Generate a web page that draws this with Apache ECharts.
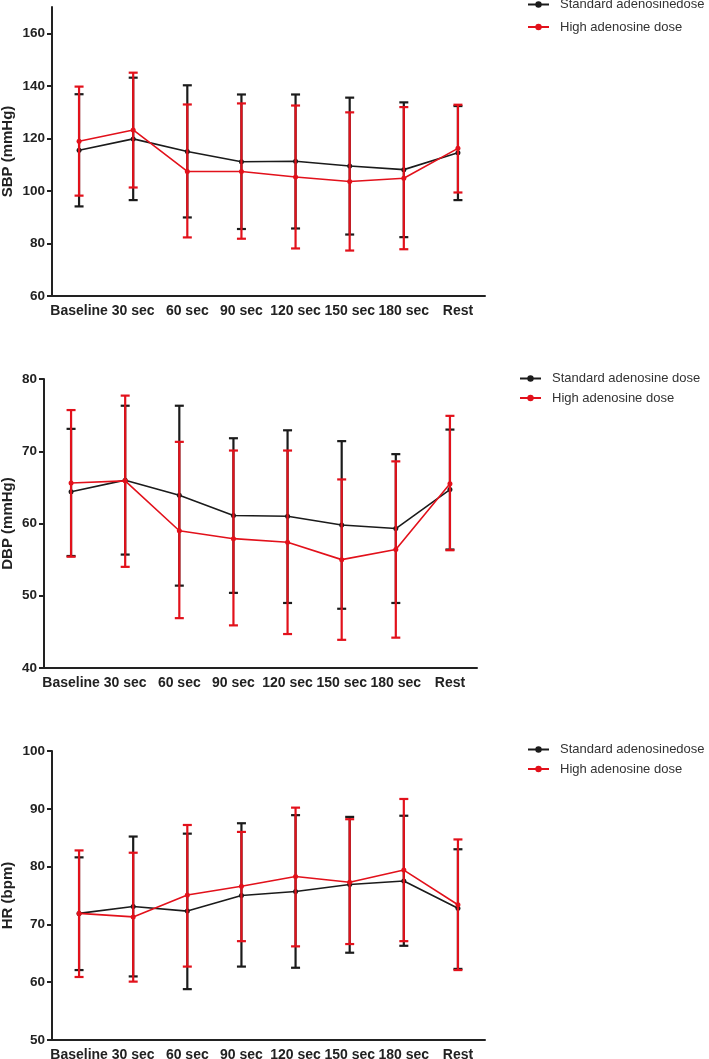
<!DOCTYPE html>
<html><head><meta charset="utf-8">
<script src="https://cdn.jsdelivr.net/npm/echarts@6/dist/echarts.min.js"></script>
<style>html,body{margin:0;padding:0;background:#fff}#c{width:709px;height:1059px}</style>
</head><body><div id="c"></div>
<script>
const categories = ['Baseline','30 sec','60 sec','90 sec','120 sec','150 sec','180 sec','Rest'];

// SBP (mmHg)
const sbpStdMean  = [115.5,119.8,115.0,111.1,111.3,109.5,108.1,114.5];
const sbpStdUpper = [136.8,143.1,140.2,136.7,136.7,135.5,133.7,132.3];
const sbpStdLower = [94.1,96.5,89.9,85.5,85.7,83.4,82.4,96.5];
const sbpHighMean  = [118.9,123.2,107.4,107.4,105.3,103.6,104.8,116.2];
const sbpHighUpper = [139.7,145.0,132.9,133.3,132.5,129.9,131.9,132.8];
const sbpHighLower = [98.2,101.3,82.3,81.8,78.1,77.3,77.8,99.4];
const sbpTicks = [60,80,100,120,140,160];

// DBP (mmHg)
const dbpStdMean  = [64.4,66.0,63.9,61.1,61.0,59.8,59.3,64.7];
const dbpStdUpper = [73.1,76.3,76.3,71.8,72.9,71.4,69.6,73.0];
const dbpStdLower = [55.5,55.7,51.4,50.4,49.0,48.2,49.0,56.4];
const dbpHighMean  = [65.6,65.9,59.0,57.9,57.4,55.0,56.4,65.5];
const dbpHighUpper = [75.7,77.7,71.3,70.1,70.1,66.1,68.6,74.9];
const dbpHighLower = [55.4,54.0,46.9,45.9,44.7,43.9,44.2,56.3];
const dbpTicks = [40,50,60,70,80];

// HR (bpm)
const hrStdMean  = [71.9,73.1,72.3,75.0,75.7,76.9,77.5,72.8];
const hrStdUpper = [81.6,85.2,85.7,87.5,88.9,88.6,88.8,83.0];
const hrStdLower = [62.1,61.0,58.8,62.7,62.5,65.1,66.3,62.3];
const hrHighMean  = [71.9,71.3,75.1,76.6,78.3,77.3,79.4,73.4];
const hrHighUpper = [82.8,82.4,87.2,86.0,90.2,88.2,91.7,84.7];
const hrHighLower = [60.9,60.1,62.7,67.1,66.2,66.6,67.1,62.1];
const hrTicks = [50,60,70,80,90,100];

const names13 = ['Standard adenosinedose','High adenosine dose'];
const names2  = ['Standard adenosine dose','High adenosine dose'];

const BLACK = '#1b1b1b', RED = '#e2111b', AX = '#222';
const FONT = 'Liberation Sans, Arial, sans-serif';

function errRender(color){
  return function(params, api){
    const x = api.value(0);
    const lo = api.coord([x, api.value(1)]);
    const hi = api.coord([x, api.value(2)]);
    const st = {stroke: color, lineWidth: 2.2};
    const cw = 4.5;
    return {type:'group', children:[
      {type:'line', shape:{x1:lo[0],y1:lo[1],x2:hi[0],y2:hi[1]}, style:st},
      {type:'line', shape:{x1:lo[0]-cw,y1:lo[1],x2:lo[0]+cw,y2:lo[1]}, style:st},
      {type:'line', shape:{x1:hi[0]-cw,y1:hi[1],x2:hi[0]+cw,y2:hi[1]}, style:st}
    ]};
  };
}
function errData(lower, upper){ return categories.map((c,i)=>[i, lower[i], upper[i]]); }

function panelSeries(idx, names, sM, sU, sL, hM, hU, hL){
  return [
    {type:'custom', name:'err-s'+idx, xAxisIndex:idx, yAxisIndex:idx, renderItem:errRender(BLACK),
     data:errData(sL,sU), encode:{x:0,y:[1,2]}, z:2, silent:true},
    {type:'line', name:names[0], xAxisIndex:idx, yAxisIndex:idx, data:sM, symbol:'circle', symbolSize:5,
     itemStyle:{color:BLACK}, lineStyle:{color:BLACK, width:1.6}, z:3},
    {type:'custom', name:'err-h'+idx, xAxisIndex:idx, yAxisIndex:idx, renderItem:errRender(RED),
     data:errData(hL,hU), encode:{x:0,y:[1,2]}, z:4, silent:true},
    {type:'line', name:names[1], xAxisIndex:idx, yAxisIndex:idx, data:hM, symbol:'circle', symbolSize:5,
     itemStyle:{color:RED}, lineStyle:{color:RED, width:1.6}, z:5}
  ];
}

function xAx(idx){
  return {type:'category', gridIndex:idx, data:categories, boundaryGap:true,
    axisLine:{lineStyle:{color:AX, width:2}},
    axisTick:{alignWithLabel:true, length:5, lineStyle:{color:AX, width:2}},
    axisLabel:{interval:0, hideOverlap:false, margin:8, color:AX, fontWeight:'bold', fontSize:14, fontFamily:FONT}};
}
function yAx(idx, min, max, ticks, name, gap){
  return {type:'value', gridIndex:idx, min:min, max:max, name:name, nameLocation:'middle', nameGap:gap,
    nameMoveOverlap:false,
    nameTextStyle:{color:AX, fontWeight:'bold', fontSize:15, fontFamily:FONT},
    splitLine:{show:false},
    axisLine:{show:true, lineStyle:{color:AX, width:2}},
    axisTick:{show:true, length:5, customValues:ticks, lineStyle:{color:AX, width:2}},
    axisLabel:{customValues:ticks, margin:7, color:AX, fontWeight:'bold', fontSize:13.5, fontFamily:FONT}};
}
function legend(left, top, names, gap){
  return {left:left, top:top, padding:0, orient:'vertical', data:names, itemWidth:21, itemHeight:8, itemGap:gap,
    textStyle:{color:'#333', fontSize:13, fontFamily:FONT, padding:[0,0,0,6]}};
}
function grid(left, top){
  return {left:left, top:top, width:433, height:289, containLabel:false, outerBoundsMode:'none'};
}

const chart = echarts.init(document.getElementById('c'), null, {renderer:'canvas'});
chart.setOption({
  animation:false,
  backgroundColor:'#fff',
  grid:[grid(52,7), grid(44,379), grid(52,751)],
  legend:[legend(527, -2, names13, 9.5), legend(519, 372, names2, 6.5), legend(527, 743, names13, 6.5)],
  xAxis:[xAx(0), xAx(1), xAx(2)],
  yAxis:[
    yAx(0, 60, 170, sbpTicks, 'SBP (mmHg)', 37),
    yAx(1, 40, 80, dbpTicks, 'DBP (mmHg)', 29),
    yAx(2, 50, 100, hrTicks, 'HR (bpm)', 37)
  ],
  series:[].concat(
    panelSeries(0, names13, sbpStdMean, sbpStdUpper, sbpStdLower, sbpHighMean, sbpHighUpper, sbpHighLower),
    panelSeries(1, names2, dbpStdMean, dbpStdUpper, dbpStdLower, dbpHighMean, dbpHighUpper, dbpHighLower),
    panelSeries(2, names13, hrStdMean, hrStdUpper, hrStdLower, hrHighMean, hrHighUpper, hrHighLower)
  )
});
</script></body></html>
